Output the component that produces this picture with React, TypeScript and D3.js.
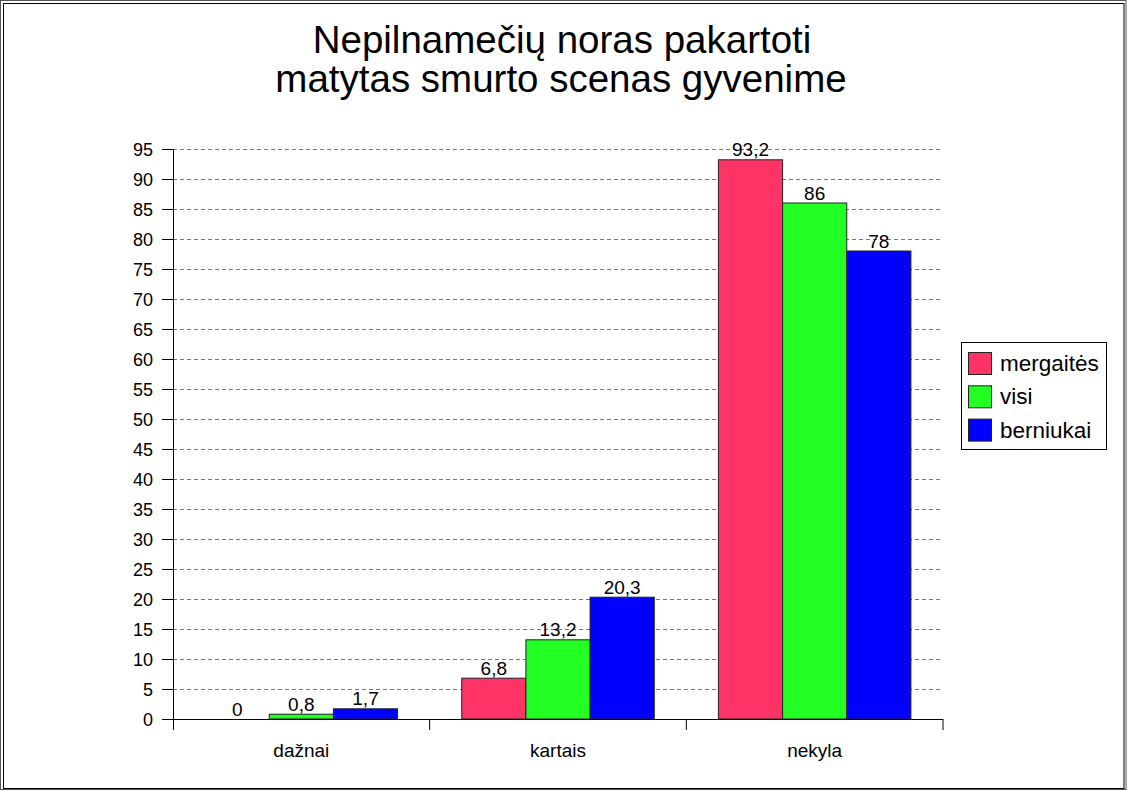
import React from "react";
import * as d3 from "d3";

// chart values
const categories = ["dažnai", "kartais", "nekyla"];
const seriesNames = ["mergaitės", "visi", "berniukai"];
const seriesColors = ["#ff3366", "#22ff22", "#0000ff"];
const mergaites = [0, 6.8, 93.2];
const visi = [0.8, 13.2, 86];
const berniukai = [1.7, 20.3, 78];
const yTicks = d3.range(0, 100, 5);

const W = 1127;
const H = 791;
const font = "'Liberation Sans', Arial, sans-serif";

export default function App() {
  const margin = { top: 149, left: 173, right: 184, bottom: 72 };
  const plotW = W - margin.left - margin.right;
  const plotH = H - margin.top - margin.bottom;

  const x = d3.scaleBand().domain(categories).range([0, plotW]);
  // bars take 3/4 of each group, half a bar of space each side
  const inner = d3
    .scaleBand()
    .domain(seriesNames)
    .range([0, x.bandwidth()])
    .paddingOuter(0.5)
    .paddingInner(0);
  const y = d3.scaleLinear().domain([0, 95]).range([plotH, 0]);

  const series = [mergaites, visi, berniukai];
  const fmt = (v: number) => String(v).replace(".", ",");

  return (
    <svg width={W} height={H} style={{ display: "block", position: "absolute", left: 0, top: 0 }}>
      <rect x={0} y={0} width={W} height={H} fill="#fff" />
      <rect x={0.5} y={0.5} width={W - 1.5} height={H - 2} fill="none" stroke="#555" strokeWidth={1} />
      <rect x={3.5} y={3.5} width={W - 6.5} height={H - 6} fill="none" stroke="#000" strokeWidth={1} />

      <text x={562} y={53} textAnchor="middle" fontFamily={font} fontSize={38.5} fill="#000">
        Nepilnamečių noras pakartoti
      </text>
      <text x={561} y={92} textAnchor="middle" fontFamily={font} fontSize={38.5} fill="#000">
        matytas smurto scenas gyvenime
      </text>

      <g transform={`translate(${margin.left},${margin.top})`}>
        {/* grid */}
        {yTicks.map((t) => (
          <g key={t}>
            {t > 0 && (
              <line x1={0} x2={plotW} y1={y(t) + 0.5} y2={y(t) + 0.5} stroke="#777" strokeDasharray="4,3" />
            )}
            <line x1={-11} x2={0} y1={y(t) + 0.5} y2={y(t) + 0.5} stroke="#000" />
            <text
              x={-20}
              y={y(t) + 6.5}
              textAnchor="end"
              fontFamily={font}
              fontSize={18}
              fill="#000"
            >
              {t}
            </text>
          </g>
        ))}

        {/* bars */}
        {categories.map((c, ci) => (
          <g key={c} transform={`translate(${x(c)},0)`}>
            {seriesNames.map((s, si) => {
              const v = series[si][ci];
              const bx = inner(s)!;
              return (
                <g key={s}>
                  <rect
                    x={bx}
                    y={y(v)}
                    width={inner.bandwidth()}
                    height={plotH - y(v)}
                    fill={seriesColors[si]}
                    stroke="#222"
                    strokeWidth={1}
                  />
                  <text
                    x={bx + inner.bandwidth() / 2}
                    y={y(v) - 3.5}
                    textAnchor="middle"
                    fontFamily={font}
                    fontSize={19}
                    fill="#000"
                  >
                    {fmt(v)}
                  </text>
                </g>
              );
            })}
          </g>
        ))}

        {/* axes */}
        <line x1={0.5} x2={0.5} y1={0} y2={plotH + 11} stroke="#000" />
        <line x1={0} x2={plotW} y1={plotH + 0.5} y2={plotH + 0.5} stroke="#000" />
        {categories.map((c) => (
          <g key={c}>
            <line
              x1={x(c)! + x.bandwidth()}
              x2={x(c)! + x.bandwidth()}
              y1={plotH}
              y2={plotH + 11}
              stroke="#000"
            />
            <text
              x={x(c)! + x.bandwidth() / 2}
              y={plotH + 38}
              textAnchor="middle"
              fontFamily={font}
              fontSize={19}
              fill="#000"
            >
              {c}
            </text>
          </g>
        ))}
      </g>

      {/* legend */}
      <g transform="translate(961,342)">
        <rect x={0.5} y={0.5} width={145} height={107} fill="#fff" stroke="#000" />
        {seriesNames.map((s, i) => (
          <g key={s} transform={`translate(0,${10 + i * 33.3})`}>
            <rect x={7.5} y={0.5} width={23} height={22} fill={seriesColors[i]} stroke="#222" />
            <text x={39} y={19} fontFamily={font} fontSize={22.5} fill="#000">
              {s}
            </text>
          </g>
        ))}
      </g>
    </svg>
  );
}
